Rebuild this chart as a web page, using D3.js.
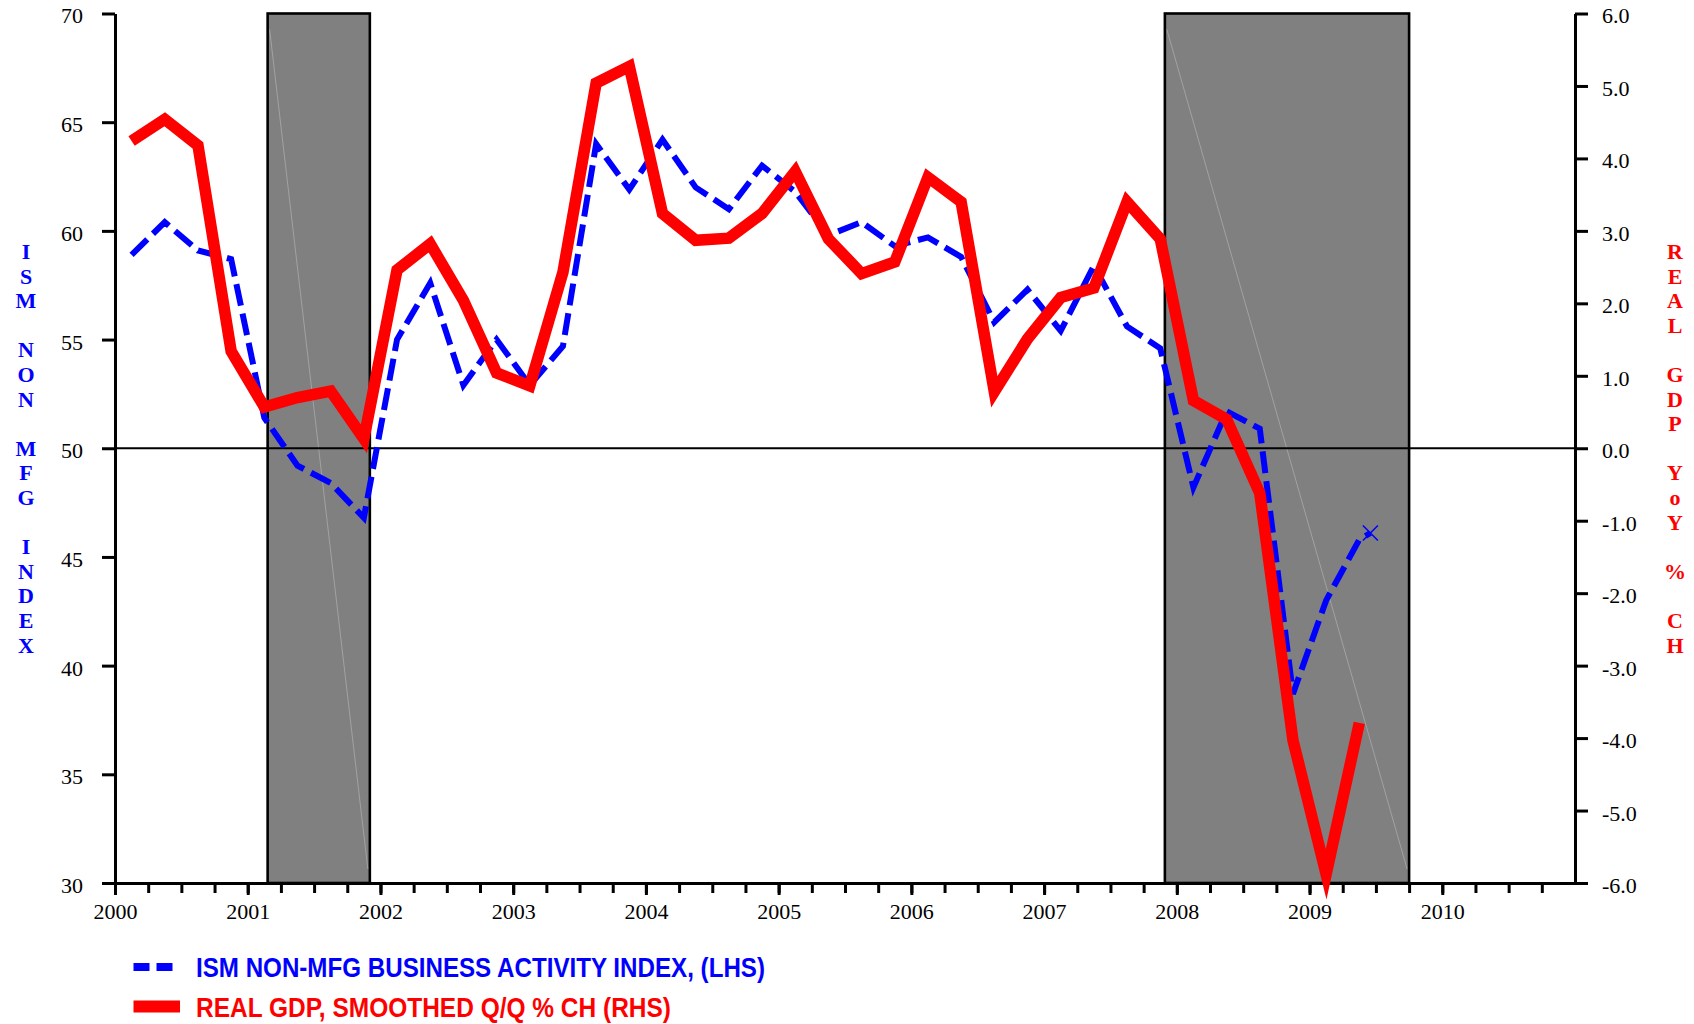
<!DOCTYPE html>
<html>
<head>
<meta charset="utf-8">
<script src="https://cdn.jsdelivr.net/npm/d3@7"></script>
<style>
  body { margin: 0; background: #fff; }
  svg { display: block; }
</style>
</head>
<body>
<svg id="chart" width="1694" height="1024"></svg>
<script>
// Quarterly observations, plotted at the middle of each quarter
const quarters = [
  "2000Q1","2000Q2","2000Q3","2000Q4","2001Q1","2001Q2","2001Q3","2001Q4",
  "2002Q1","2002Q2","2002Q3","2002Q4","2003Q1","2003Q2","2003Q3","2003Q4",
  "2004Q1","2004Q2","2004Q3","2004Q4","2005Q1","2005Q2","2005Q3","2005Q4",
  "2006Q1","2006Q2","2006Q3","2006Q4","2007Q1","2007Q2","2007Q3","2007Q4",
  "2008Q1","2008Q2","2008Q3","2008Q4","2009Q1","2009Q2"
];

// ISM non-manufacturing business activity index (left axis)
const ismActivity = [
  58.9, 60.4, 59.1, 58.7, 51.4, 49.2, 48.4, 46.8,
  55.0, 57.6, 52.9, 55.0, 52.9, 54.7, 64.0, 61.9,
  64.2, 62.0, 61.0, 63.0, 61.8, 59.8, 60.4, 59.3,
  59.7, 58.8, 55.8, 57.3, 55.4, 58.4, 55.6, 54.6,
  48.2, 51.7, 50.9, 38.7, 43.0, 45.8
];
// Latest monthly ISM reading, marked with an X
const ismLatestMonth = "2009-06";
const ismLatestValue = 46.1;

// Real GDP, smoothed q/q % change (right axis)
const gdpSmoothed = [
  4.24, 4.54, 4.18, 1.34, 0.57, 0.70, 0.79, 0.13,
  2.46, 2.82, 2.04, 1.04, 0.86, 2.43, 5.04, 5.27,
  3.24, 2.87, 2.90, 3.24, 3.82, 2.89, 2.41, 2.57,
  3.74, 3.40, 0.78, 1.51, 2.08, 2.21, 3.40, 2.89,
  0.66, 0.40, -0.62, -4.03, -5.88, -3.79
];

// Recession periods (decimal years)
const recessionStart = [2001.15, 2007.91];
const recessionEnd   = [2001.92, 2009.75];

// Axis ticks
const leftTicks  = [30, 35, 40, 45, 50, 55, 60, 65, 70];
const rightTicks = [-6, -5, -4, -3, -2, -1, 0, 1, 2, 3, 4, 5, 6];
const yearTicks  = [2000, 2001, 2002, 2003, 2004, 2005, 2006, 2007, 2008, 2009, 2010];

const leftTitle  = "ISM NON MFG INDEX";
const rightTitle = "REAL GDP YoY % CH";
const legendIsm  = "ISM NON-MFG BUSINESS ACTIVITY INDEX, (LHS)";
const legendGdp  = "REAL GDP, SMOOTHED Q/Q % CH (RHS)";

// ---- helpers ----
const quarterMid = q => +q.slice(0, 4) + (+q.slice(5) - 0.5) / 4;
const monthMid = m => +m.slice(0, 4) + (+m.slice(5) - 0.5) / 12;

const BLUE = "#0000ff", RED = "#ff0000", GRAY = "#808080";
const SERIF = "'Liberation Serif', 'Times New Roman', serif";
const SANS = "'Liberation Sans', Arial, sans-serif";

const plot = { left: 115, right: 1575, top: 13.5, bottom: 883 };

const svg = d3.select("#chart");

const x = d3.scaleLinear().domain([2000, 2011]).range([plot.left, plot.right]);
const yL = d3.scaleLinear().domain([30, 70]).range([plot.bottom, plot.top]);
const yR = d3.scaleLinear().domain([-6, 6]).range([plot.bottom, plot.top]);

// ---- recession shading ----
const recessions = recessionStart.map((s, i) => ({ s, e: recessionEnd[i] }));
const rg = svg.append("g");
rg.selectAll("rect").data(recessions).join("rect")
  .attr("x", d => x(d.s))
  .attr("y", plot.top)
  .attr("width", d => x(d.e) - x(d.s))
  .attr("height", plot.bottom - plot.top)
  .attr("fill", GRAY)
  .attr("stroke", "#000")
  .attr("stroke-width", 2.6);
// faint diagonal hairline inside each shaded band
rg.selectAll("line").data(recessions).join("line")
  .attr("x1", d => x(d.s) + 2).attr("y1", plot.top + 16)
  .attr("x2", d => x(d.e) - 2).attr("y2", plot.bottom - 14)
  .attr("stroke", "#b0b0b0")
  .attr("stroke-width", 0.7);

// ---- zero line ----
svg.append("line")
  .attr("x1", plot.left).attr("x2", plot.right)
  .attr("y1", yR(0)).attr("y2", yR(0))
  .attr("stroke", "#000").attr("stroke-width", 2);

// ---- axes ----
function styleAxis(g) {
  g.attr("font-family", SERIF).attr("font-size", 22);
  g.select(".domain").attr("stroke", "#000").attr("stroke-width", 3);
  g.selectAll(".tick line").attr("stroke", "#000").attr("stroke-width", 3);
  g.selectAll(".tick text").attr("fill", "#000");
}

const leftAxis = svg.append("g")
  .attr("transform", `translate(${plot.left},0)`)
  .call(d3.axisLeft(yL).tickValues(leftTicks).tickSize(13).tickSizeOuter(0)
    .tickPadding(19).tickFormat(d => d));
styleAxis(leftAxis);
leftAxis.selectAll(".tick text").attr("dy", "0.43em");

const rightAxis = svg.append("g")
  .attr("transform", `translate(${plot.right},0)`)
  .call(d3.axisRight(yR).tickValues(rightTicks).tickSize(13).tickSizeOuter(0)
    .tickPadding(14).tickFormat(d => d.toFixed(1)));
styleAxis(rightAxis);
rightAxis.selectAll(".tick text").attr("dy", "0.43em");

// quarter ticks along the bottom, years labelled
const quarterTicks = d3.range(0, 44).map(i => 2000 + i / 4);
const bottomMinor = svg.append("g")
  .attr("transform", `translate(0,${plot.bottom})`)
  .call(d3.axisBottom(x).tickValues(quarterTicks).tickSize(10).tickSizeOuter(0).tickFormat(""));
styleAxis(bottomMinor);

const bottomAxis = svg.append("g")
  .attr("transform", `translate(0,${plot.bottom})`)
  .call(d3.axisBottom(x).tickValues(yearTicks).tickSize(12).tickSizeOuter(0)
    .tickPadding(8).tickFormat(d => d));
styleAxis(bottomAxis);

// ---- vertical axis titles (stacked letters) ----
function stackedTitle(text, cx, color) {
  svg.append("g").selectAll("text").data(text.split("")).join("text")
    .attr("x", cx)
    .attr("y", (d, i) => 251 + i * 24.6)
    .attr("dy", "0.36em")
    .attr("text-anchor", "middle")
    .attr("font-family", SERIF)
    .attr("font-weight", "bold")
    .attr("font-size", 22)
    .attr("fill", color)
    .text(d => d);
}
stackedTitle(leftTitle, 26, BLUE);
stackedTitle(rightTitle, 1675, RED);

// ---- series ----
const ismPoints = ismActivity.map((v, i) => ({ t: quarterMid(quarters[i]), v }));
ismPoints.push({ t: monthMid(ismLatestMonth), v: ismLatestValue });
const gdpPoints = gdpSmoothed.map((v, i) => ({ t: quarterMid(quarters[i]), v }));

svg.append("path")
  .datum(ismPoints)
  .attr("d", d3.line().x(d => x(d.t)).y(d => yL(d.v)))
  .attr("fill", "none")
  .attr("stroke", BLUE)
  .attr("stroke-width", 6)
  .attr("stroke-dasharray", "22,8")
  .attr("stroke-linejoin", "miter");

// X marker on the latest ISM reading
const last = ismPoints[ismPoints.length - 1];
const mx = x(last.t), my = yL(last.v), ms = 7.5;
svg.append("path")
  .attr("d", `M${mx - ms},${my - ms}L${mx + ms},${my + ms}M${mx - ms},${my + ms}L${mx + ms},${my - ms}`)
  .attr("stroke", BLUE)
  .attr("stroke-width", 1.6)
  .attr("fill", "none");

svg.append("path")
  .datum(gdpPoints)
  .attr("d", d3.line().x(d => x(d.t)).y(d => yR(d.v)))
  .attr("fill", "none")
  .attr("stroke", RED)
  .attr("stroke-width", 11.5)
  .attr("stroke-linejoin", "miter")
  .attr("stroke-miterlimit", 10);

// ---- legend ----
const lg = svg.append("g");
lg.append("line")
  .attr("x1", 133.5).attr("x2", 174).attr("y1", 967).attr("y2", 967)
  .attr("stroke", BLUE).attr("stroke-width", 8).attr("stroke-dasharray", "16,7");
lg.append("text")
  .attr("x", 196).attr("y", 977)
  .attr("font-family", SANS).attr("font-weight", "bold").attr("font-size", 27)
  .attr("fill", BLUE)
  .attr("textLength", 569).attr("lengthAdjust", "spacingAndGlyphs")
  .text(legendIsm);
lg.append("line")
  .attr("x1", 133.5).attr("x2", 180).attr("y1", 1006.5).attr("y2", 1006.5)
  .attr("stroke", RED).attr("stroke-width", 12);
lg.append("text")
  .attr("x", 196).attr("y", 1017)
  .attr("font-family", SANS).attr("font-weight", "bold").attr("font-size", 27)
  .attr("fill", RED)
  .attr("textLength", 475).attr("lengthAdjust", "spacingAndGlyphs")
  .text(legendGdp);
</script>
</body>
</html>
